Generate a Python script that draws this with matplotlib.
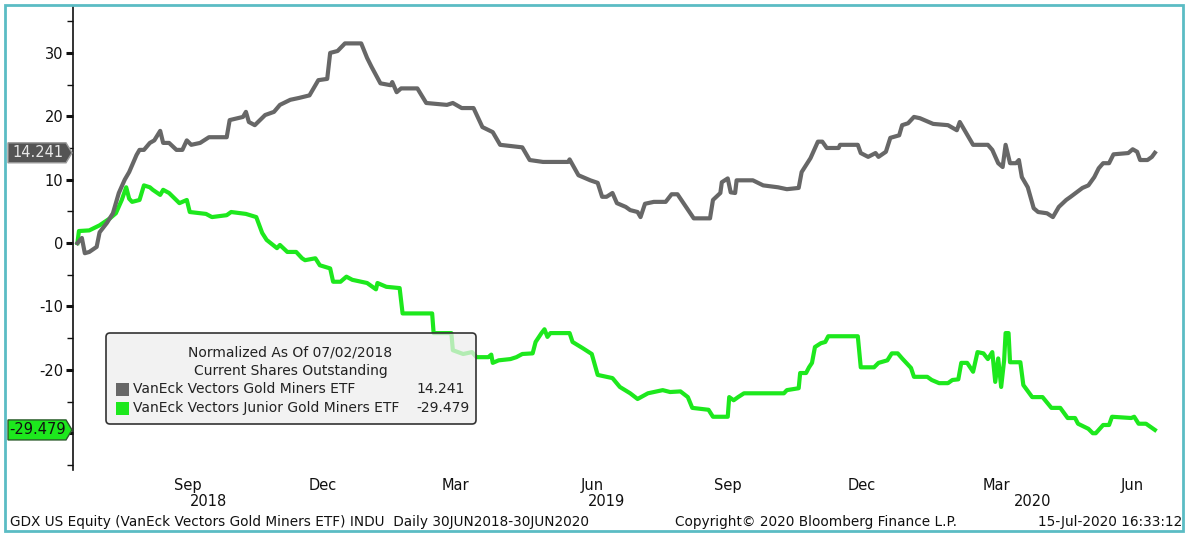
import matplotlib
matplotlib.use("Agg")
import matplotlib.pyplot as plt
import matplotlib.transforms as mtransforms
from matplotlib.patches import Polygon, FancyBboxPatch, Rectangle
import numpy as np

plt.rcParams['font.family'] = ['DejaVu Sans']
plt.rcParams['axes.unicode_minus'] = False

# ---------------- data ----------------
start_date = '2018-07-02'
gdx_days = [0, 3, 5, 8, 13, 15, 20, 24, 28, 32, 35, 40, 42, 45, 49, 52, 56, 58, 62, 67, 71, 74, 77, 83, 89,
            101, 103, 112, 114, 116, 120, 127, 133, 137, 144, 150, 157, 163, 169, 171, 176, 181, 192, 196,
            199, 205, 212, 213, 216, 219, 230, 236, 250, 254, 260, 268, 274, 281, 286, 301, 306, 315, 332,
            333, 339, 347, 352, 355, 358, 362, 365, 371, 374, 379, 381, 384, 390, 398, 402, 406, 417, 428,
            430, 435, 436, 440, 442, 445, 446, 457, 464, 474, 480, 488, 490, 496, 501, 504, 507, 515, 516,
            528, 530, 535, 540, 542, 547, 550, 556, 558, 562, 566, 570, 579, 589, 595, 597, 601, 606, 616,
            619, 623, 626, 628, 631, 635, 637, 639, 643, 647, 650, 656, 660, 664, 669, 672, 676, 680, 684,
            688, 691, 694, 698, 701, 711, 714, 717, 719, 724, 727, 729]
gdx_vals = [0, 0.8, -1.6, -1.4, -0.6, 1.7, 3.2, 4.7, 7.9, 10.0, 11.2, 13.9, 14.7, 14.7, 15.8, 16.2, 17.7, 15.8,
            15.8, 14.7, 14.7, 16.2, 15.5, 15.8, 16.7, 16.7, 19.4, 19.9, 20.7, 19.1, 18.6, 20.2, 20.7, 21.8,
            22.6, 22.9, 23.3, 25.7, 25.9, 30.0, 30.3, 31.5, 31.5, 29.2, 27.8, 25.2, 24.9, 25.4, 23.8, 24.4,
            24.4, 22.1, 21.8, 22.1, 21.3, 21.3, 18.3, 17.5, 15.5, 15.1, 13.1, 12.8, 12.8, 13.2, 10.7, 9.9,
            9.5, 7.3, 7.3, 7.9, 6.3, 5.7, 5.2, 4.9, 4.1, 6.2, 6.5, 6.5, 7.7, 7.7, 3.9, 3.9, 6.8, 7.9, 9.6,
            10.2, 8.0, 7.9, 9.9, 9.9, 9.1, 8.8, 8.5, 8.7, 11.2, 13.4, 16.0, 16.0, 15.0, 15.0, 15.5, 15.5,
            14.2, 13.6, 14.2, 13.6, 14.4, 16.6, 17.0, 18.6, 18.9, 19.9, 19.7, 18.8, 18.6, 17.8, 19.1, 17.5,
            15.5, 15.5, 14.7, 12.6, 12.0, 15.5, 12.6, 12.6, 13.1, 10.4, 8.8, 5.5, 4.9, 4.7, 4.1, 5.7, 6.8,
            7.3, 8.0, 8.7, 9.1, 10.4, 11.8, 12.6, 12.6, 14.0, 14.2, 14.8, 14.4, 13.1, 13.1, 13.6, 14.241]

gdxj_days = [0, 1, 8, 15, 22, 26, 30, 33, 35, 37, 42, 45, 49, 51, 56, 58, 62, 69, 74, 76, 87, 91, 101, 104,
             114, 121, 125, 128, 135, 137, 142, 148, 152, 154, 161, 164, 171, 173, 178, 182, 186, 196, 202,
             203, 209, 218, 220, 240, 241, 253, 254, 261, 267, 270, 278, 280, 281, 285, 293, 297, 301, 308,
             310, 314, 316, 318, 320, 333, 335, 342, 348, 352, 362, 367, 374, 379, 386, 396, 401, 408, 413,
             416, 427, 430, 440, 441, 444, 447, 451, 478, 480, 488, 489, 493, 495, 497, 499, 503, 506, 508,
             528, 530, 539, 542, 548, 551, 555, 558, 564, 566, 575, 578, 583, 589, 592, 596, 598, 602, 606,
             609, 613, 616, 619, 621, 623, 625, 627, 628, 630, 631, 638, 640, 646, 653, 659, 665, 670, 675,
             677, 684, 687, 689, 694, 698, 700, 713, 715, 718, 723, 729]
gdxj_vals = [0, 1.9, 2.0, 2.8, 3.9, 4.7, 6.8, 8.8, 7.0, 6.5, 6.8, 9.1, 8.8, 8.4, 7.6, 8.4, 7.9, 6.3, 6.8, 4.9,
             4.6, 4.1, 4.4, 4.9, 4.6, 4.1, 1.6, 0.5, -0.8, -0.3, -1.4, -1.4, -2.4, -2.7, -2.4, -3.5, -4.0,
             -6.1, -6.1, -5.3, -5.8, -6.3, -7.3, -6.3, -6.9, -7.1, -11.1, -11.1, -14.2, -14.2, -16.9, -17.5,
             -17.2, -18.0, -18.0, -17.6, -18.9, -18.5, -18.3, -18.0, -17.5, -17.4, -15.6, -14.2, -13.6,
             -14.8, -14.2, -14.2, -15.6, -16.6, -17.5, -20.8, -21.3, -22.7, -23.7, -24.6, -23.7, -23.2,
             -23.5, -23.4, -24.3, -26.0, -26.3, -27.4, -27.4, -24.3, -24.8, -24.3, -23.7, -23.7, -23.2,
             -22.9, -20.5, -20.5, -19.6, -18.9, -16.4, -15.8, -15.6, -14.7, -14.7, -19.6, -19.6, -18.9,
             -18.5, -17.4, -17.4, -18.2, -19.7, -21.1, -21.1, -21.6, -22.1, -22.1, -21.6, -21.5, -18.9,
             -18.9, -20.3, -17.2, -17.4, -18.3, -17.2, -21.9, -18.2, -22.7, -18.5, -14.2, -14.2, -18.8,
             -18.8, -22.4, -24.3, -24.3, -26.0, -26.0, -27.6, -27.6, -28.5, -29.3, -30.0, -30.0, -28.7,
             -28.7, -27.4, -27.6, -27.4, -28.5, -28.5, -29.479]

series_names = ['VanEck Vectors Gold Miners ETF', 'VanEck Vectors Junior Gold Miners ETF']
last_values = ['14.241', '-29.479']
y_tick_values = [-30, -20, -10, 0, 10, 20, 30]
y_tick_labels = ['', '-20', '-10', '0', '10', '20', '30']   # -30 hidden behind the value tag
month_tick_dates = ['2018-09-15', '2018-12-15', '2019-03-15', '2019-06-15',
                    '2019-09-15', '2019-12-15', '2020-03-15', '2020-06-15']
month_tick_labels = ['Sep', 'Dec', 'Mar', 'Jun', 'Sep', 'Dec', 'Mar', 'Jun']
year_label_dates = ['2018-09-29', '2019-06-25', '2020-04-08']
year_labels = ['2018', '2019', '2020']

GRAY = '#676767'
GREEN = '#1de81d'
FS = 10.5
LFS = 10

W, H = 1186, 533
fig = plt.figure(figsize=(W / 100, H / 100), dpi=100)
fig.patch.set_facecolor('white')
# pixel transform (top-left origin)
pix = mtransforms.Affine2D().scale(1 / W, -1 / H).translate(0, 1) + fig.transFigure

ax_l, ax_r, ax_t, ax_b = 73, 1180, 6, 470
ax = fig.add_axes([ax_l / W, 1 - ax_b / H, (ax_r - ax_l) / W, (ax_b - ax_t) / H])

t0 = np.datetime64(start_date)
gdx_dates = t0 + np.array(gdx_days).astype('timedelta64[D]')
gdxj_dates = t0 + np.array(gdxj_days).astype('timedelta64[D]')

ax.plot(gdxj_dates, gdxj_vals, color=GREEN, lw=3.0, solid_joinstyle='round', zorder=3)
ax.plot(gdx_dates, gdx_vals, color=GRAY, lw=3.0, solid_joinstyle='round', zorder=4)

ax.set_xlim(t0 - np.timedelta64(3, 'D'), t0 + np.timedelta64(746, 'D'))
ax.set_ylim(-35.8, 37.4)

for s in ['top', 'right', 'bottom']:
    ax.spines[s].set_visible(False)
ax.spines['left'].set_color('#111111')
ax.spines['left'].set_linewidth(1.2)

ax.set_yticks(y_tick_values)
ax.set_yticklabels(y_tick_labels)
ax.set_yticks(np.arange(-35, 36, 5), minor=True)
ax.tick_params(axis='y', which='major', direction='out', length=5, width=2.2,
               labelsize=FS, colors='#111111', pad=2)
ax.tick_params(axis='y', which='minor', direction='out', length=4, width=1, colors='#111111')

ax.set_xticks(np.array(month_tick_dates, dtype='datetime64[D]'))
ax.set_xticklabels(month_tick_labels)
ax.tick_params(axis='x', length=0, pad=6, labelsize=FS, colors='#111111')

for d, lab in zip(year_label_dates, year_labels):
    ax.annotate(lab, xy=(np.datetime64(d), 0), xycoords=('data', 'axes fraction'),
                xytext=(0, -31), textcoords='offset pixels', ha='center', va='center',
                fontsize=FS, color='#111111', annotation_clip=False)

# value tags on the left
tag_tr = mtransforms.blended_transform_factory(fig.transFigure, ax.transData)
def tag(val, text, face, edge, tcolor):
    hh = 10 / 6.34
    x0, x1, x2 = 8 / W, 66 / W, 72 / W
    poly = Polygon([(x0, val - hh), (x1, val - hh), (x2, val), (x1, val + hh), (x0, val + hh)],
                   closed=True, transform=tag_tr, facecolor=face, edgecolor=edge, lw=1,
                   clip_on=False, zorder=10)
    fig.patches.append(poly)
    fig.text(38 / W, val, text, transform=tag_tr, ha='center', va='center',
             fontsize=10.5, color=tcolor, zorder=11)

tag(float(last_values[0]), last_values[0], '#545454', '#9a9a9a', '#e8e8e8')
tag(float(last_values[1]), last_values[1], GREEN, '#2a5a2a', '#111111')

# legend box
leg = FancyBboxPatch((106, 333), 370, 91, boxstyle='round,pad=0,rounding_size=4',
                     transform=pix, facecolor='#eeeeee', edgecolor='none',
                     alpha=0.72, zorder=5)
fig.patches.append(leg)
leg_edge = FancyBboxPatch((106, 333), 370, 91, boxstyle='round,pad=0,rounding_size=4',
                          transform=pix, facecolor='none', edgecolor='#333333', lw=1.2, zorder=6)
fig.patches.append(leg_edge)
fig.text(290, 352, 'Normalized As Of 07/02/2018', transform=pix, ha='center', va='center',
         fontsize=LFS, color='#222222', zorder=7)
fig.text(291, 371, 'Current Shares Outstanding', transform=pix, ha='center', va='center',
         fontsize=LFS, color='#222222', zorder=7)
for i, (nm, lv, col) in enumerate(zip(series_names, last_values, [GRAY, GREEN])):
    yy = 389 + i * 19
    fig.patches.append(Rectangle((116, yy - 6.5), 13, 13, transform=pix, facecolor=col,
                                 edgecolor='none', zorder=7))
    fig.text(133, yy, nm, transform=pix, ha='left', va='center', fontsize=LFS,
             color='#222222', zorder=7)
    fig.text(416, yy, lv, transform=pix, ha='left', va='center', fontsize=LFS,
             color='#222222', zorder=7)

# footer
fig.text(10, 522, 'GDX US Equity (VanEck Vectors Gold Miners ETF) INDU  Daily 30JUN2018-30JUN2020',
         transform=pix, ha='left', va='center', fontsize=9.8, color='#111111')
fig.text(675, 522, 'Copyright\u00a9 2020 Bloomberg Finance L.P.', transform=pix, ha='left',
         va='center', fontsize=9.8, color='#111111')
fig.text(1182, 522, '15-Jul-2020 16:33:12', transform=pix, ha='right', va='center',
         fontsize=9.8, color='#111111')

# outer frame
fig.patches.append(Rectangle((5, 5), 1178, 526, transform=pix, facecolor='none',
                             edgecolor='#5bbcc4', lw=2, zorder=20))

fig.savefig('out.png', dpi=100)
